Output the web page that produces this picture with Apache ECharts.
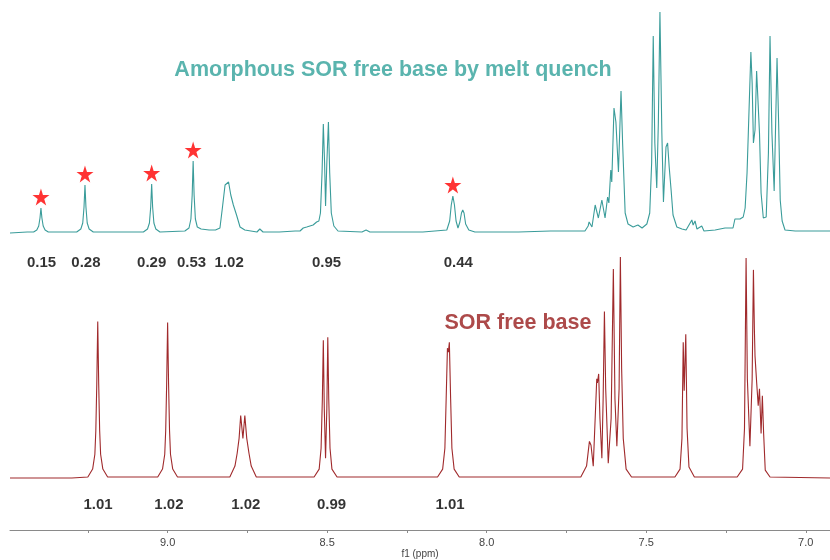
<!DOCTYPE html>
<html>
<head>
<meta charset="utf-8">
<script src="https://cdn.jsdelivr.net/npm/echarts@6/dist/echarts.min.js"></script>
<style>html,body{margin:0;padding:0;background:#fff}#c{width:830px;height:560px}</style>
</head>
<body>
<div id="c"></div>
<script>
// ---- axis ----
const ppmMin = 6.924;
const ppmMax = 9.494;
const majorTickLabels = [9.0, 8.5, 8.0, 7.5, 7.0];
const allTicks = [9.25, 9.0, 8.75, 8.5, 8.25, 8.0, 7.75, 7.5, 7.25, 7.0];

// ---- spectra: [ppm, relative intensity] ----
const amorphousSpectrum = [
  [9.494,0],[9.440,1],
  [9.420,1],[9.410,3],[9.404,7],[9.400,15],[9.397,25],[9.394,15],[9.390,7],[9.384,3],[9.374,1],
  [9.285,1],[9.272,4],[9.266,10],[9.262,26],[9.259,48],[9.256,26],[9.252,10],[9.246,4],[9.233,1],
  [9.076,1],[9.063,4],[9.057,10],[9.053,26],[9.050,49],[9.047,26],[9.043,10],[9.037,4],[9.024,1],
  [8.946,2],[8.933,5],[8.927,14],[8.923,38],[8.920,72],[8.917,38],[8.913,14],[8.907,6],[8.895,4],[8.870,3],[8.850,3],
  [8.836,5],[8.828,26],[8.820,48],[8.815,46],[8.809,51],[8.802,38],[8.794,28],[8.784,18],[8.773,6],[8.758,3],
  [8.720,1],[8.711,4],[8.701,1],[8.650,1],[8.600,2],
  [8.585,2],[8.575,5],[8.570,3],[8.564,6],[8.559,4],[8.554,7],[8.549,5],[8.544,8],[8.538,7],[8.533,11],[8.526,12],
  [8.521,20],[8.516,60],[8.512,109],[8.508,70],[8.505,27],[8.501,70],[8.496,111],[8.492,60],[8.487,20],[8.479,7],[8.466,2],
  [8.391,1],[8.378,3],[8.366,1],[8.300,1],[8.200,1],
  [8.125,3],[8.116,12],[8.111,28],[8.106,37],[8.101,28],[8.096,12],[8.090,5],[8.084,11],[8.079,20],[8.075,23],[8.071,20],[8.066,9],[8.056,3],[8.037,1],
  [7.900,1],[7.800,2],[7.692,2],[7.682,7],[7.679,11],[7.670,6],[7.660,28],[7.650,15],[7.639,33],[7.635,32],[7.629,15],
  [7.621,36],[7.617,30],[7.611,63],[7.608,51],[7.601,125],[7.595,111],[7.587,61],[7.579,142],[7.574,90],[7.566,20],
  [7.557,9],[7.541,6],[7.526,8],[7.513,5],[7.498,9],[7.489,20],[7.483,70],[7.478,197],[7.473,90],[7.467,45],
  [7.462,110],[7.457,221],[7.451,100],[7.446,31],[7.438,86],[7.433,90],[7.428,66],[7.422,43],[7.416,18],[7.404,6],
  [7.388,4],[7.375,3],[7.357,13],[7.353,8],[7.347,12],[7.341,4],[7.326,7],[7.319,2],[7.284,3],[7.253,5],[7.228,5],
  [7.222,14],[7.206,14],[7.196,16],[7.190,25],[7.184,60],[7.180,100],[7.172,181],[7.168,150],[7.164,90],[7.159,103],
  [7.154,162],[7.149,160],[7.145,100],[7.140,40],[7.133,15],[7.124,16],[7.117,80],[7.112,197],[7.106,100],[7.099,42],
  [7.095,100],[7.090,175],[7.085,110],[7.080,33],[7.074,12],[7.065,3],[7.033,2],[7.002,2],[6.971,2],[6.924,2]
];

const crystallineSpectrum = [
  [9.494,0],[9.300,0],
  [9.250,1],[9.235,9],[9.228,24],[9.225,48],[9.222,95],[9.219,158],[9.216,95],[9.213,48],[9.210,24],[9.203,9],[9.188,1],
  [9.031,1],[9.016,9],[9.009,24],[9.006,48],[9.003,95],[9.000,157],[8.997,95],[8.994,48],[8.991,24],[8.984,9],[8.969,1],
  [8.805,1],[8.789,12],[8.782,25],[8.776,40],[8.771,63],[8.764,40],[8.758,63],[8.752,40],[8.745,25],[8.738,12],[8.722,1],
  [8.541,1],[8.525,9],[8.519,30],[8.515,80],[8.512,139],[8.509,70],[8.505,20],[8.501,70],[8.498,142],[8.495,80],[8.491,30],[8.485,9],[8.469,1],
  [8.154,1],[8.138,9],[8.131,30],[8.127,80],[8.123,131],[8.120,127],[8.117,137],[8.113,80],[8.109,30],[8.102,9],[8.086,1],
  [7.705,1],[7.687,12],[7.678,37],[7.673,33],[7.666,12],[7.660,60],[7.655,100],[7.653,96],[7.649,105],[7.645,60],
  [7.639,20],[7.635,80],[7.631,168],[7.627,90],[7.619,15],[7.610,60],[7.603,211],[7.598,80],[7.592,32],[7.585,90],
  [7.581,223],[7.577,110],[7.572,40],[7.563,9],[7.546,1],
  [7.410,1],[7.394,9],[7.388,40],[7.384,137],[7.381,88],[7.376,145],[7.372,50],[7.366,11],[7.349,1],
  [7.215,1],[7.198,9],[7.192,50],[7.187,222],[7.183,100],[7.175,32],[7.168,100],[7.164,210],[7.161,150],[7.159,123],
  [7.154,97],[7.149,73],[7.145,90],[7.140,45],[7.136,83],[7.132,45],[7.127,8],[7.112,1],[6.924,0]
];

// ---- integrals ----
const amorphousIntegralPpm = [9.395, 9.256, 9.050, 8.925, 8.807, 8.502, 8.089];
const amorphousIntegrals = ['0.15', '0.28', '0.29', '0.53', '1.02', '0.95', '0.44'];
const crystallineIntegralPpm = [9.218, 8.996, 8.755, 8.486, 8.115];
const crystallineIntegrals = ['1.01', '1.02', '1.02', '0.99', '1.01'];

// ---- starred peaks [ppm, apex intensity] ----
const starredPeaks = [[9.397,25],[9.259,48],[9.050,49],[8.920,72],[8.106,37]];

const titleTop = 'Amorphous SOR free base by melt quench';
const titleBottom = 'SOR free base';

const starPath = 'path://M50,0 L61.2,34.5 L97.6,34.5 L68.2,55.9 L79.4,90.5 L50,69.1 L20.6,90.5 L31.8,55.9 L2.4,34.5 L38.8,34.5 Z';

const chart = echarts.init(document.getElementById('c'), null, {renderer: 'canvas'});

function integralSeries(ppms, labels, gridIdx, off) {
  return {
    type: 'scatter', xAxisIndex: gridIdx, yAxisIndex: gridIdx,
    symbolSize: 0, silent: true, clip: false,
    data: ppms.map((p, i) => ({value: [p, 0], name: labels[i]})),
    label: {
      show: true, position: 'inside', offset: [0, off],
      formatter: p => p.name,
      fontFamily: 'Liberation Sans, Arial, sans-serif', fontWeight: 'bold', fontSize: 15, color: '#000'
    }
  };
}

const option = {
  animation: false,
  backgroundColor: '#ffffff',
  grid: [
    {left: 10, right: 0, top: 10, height: 223},
    {left: 10, right: 0, top: 257, height: 223}
  ],
  xAxis: [
    {gridIndex: 0, type: 'value', min: ppmMin, max: ppmMax, inverse: true, show: false},
    {gridIndex: 1, type: 'value', min: ppmMin, max: ppmMax, inverse: true, offset: 52,
     name: 'f1 (ppm)', nameLocation: 'middle', nameGap: 19,
     nameTextStyle: {fontSize: 10, color: '#444', fontFamily: 'Liberation Sans Narrow, Liberation Sans, sans-serif'},
     axisLine: {show: true, onZero: false, lineStyle: {color: '#8a8a8a', width: 1}},
     axisTick: {show: true, length: 3, customValues: allTicks, lineStyle: {color: '#8a8a8a'}},
     axisLabel: {show: true, customValues: majorTickLabels, margin: 7, fontSize: 11, color: '#444',
       fontFamily: 'Liberation Sans Narrow, Liberation Sans, sans-serif',
       formatter: v => v.toFixed(1)},
     splitLine: {show: false}}
  ],
  yAxis: [
    {gridIndex: 0, type: 'value', min: 0, max: 223, show: false},
    {gridIndex: 1, type: 'value', min: 0, max: 223, show: false}
  ],
  series: [
    {type: 'line', xAxisIndex: 0, yAxisIndex: 0, data: amorphousSpectrum, showSymbol: false, clip: false,
     lineStyle: {color: '#3a9c9a', width: 1.1}, silent: true},
    {type: 'line', xAxisIndex: 1, yAxisIndex: 1, data: crystallineSpectrum, showSymbol: false, clip: false,
     lineStyle: {color: '#a02a2c', width: 1.1}, silent: true},
    {type: 'scatter', xAxisIndex: 0, yAxisIndex: 0, data: starredPeaks, symbol: starPath, symbolSize: 17,
     symbolOffset: [0, -11], itemStyle: {color: '#ff0000'}, silent: true, clip: false},
    integralSeries(amorphousIntegralPpm, amorphousIntegrals, 0, 30),
    integralSeries(crystallineIntegralPpm, crystallineIntegrals, 1, 27)
  ],
  graphic: [
    {type: 'text', x: 393, y: 70, style: {text: titleTop, fill: '#5ab4ae',
      font: 'bold 21.5px "Liberation Sans", Arial, sans-serif', textAlign: 'center', textVerticalAlign: 'middle'}},
    {type: 'text', x: 518, y: 323, style: {text: titleBottom, fill: '#ad4a4a',
      font: 'bold 21.5px "Liberation Sans", Arial, sans-serif', textAlign: 'center', textVerticalAlign: 'middle'}}
  ]
};
chart.setOption(option);
</script>
</body>
</html>
